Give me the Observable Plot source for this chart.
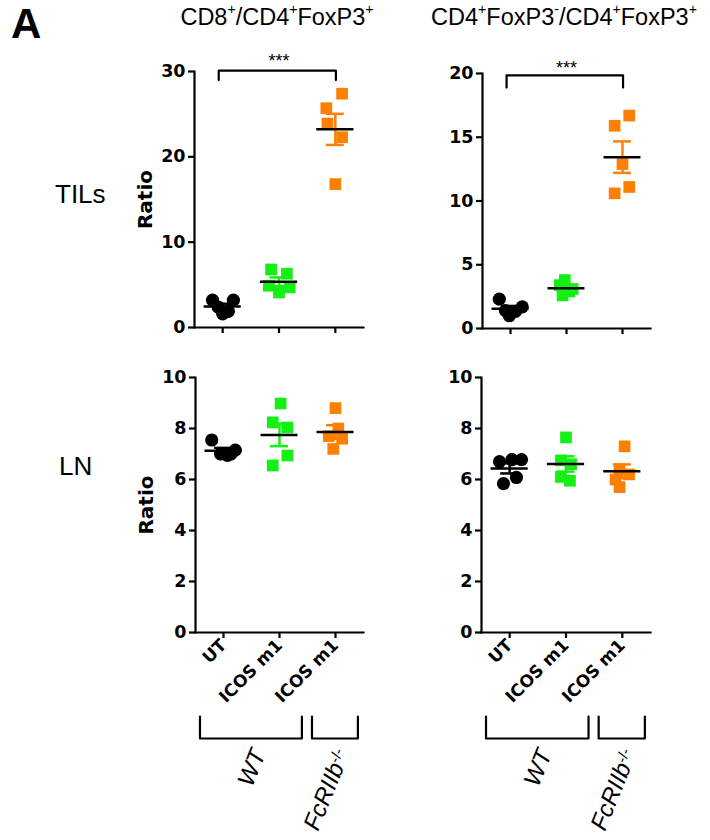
<!DOCTYPE html>
<html><head><meta charset="utf-8">
<script src="https://cdn.jsdelivr.net/npm/d3@7"></script>
<script src="https://cdn.jsdelivr.net/npm/@observablehq/plot@0.6"></script>
<style>
body{margin:0;background:#fff;}
#root{position:relative;width:710px;height:840px;overflow:hidden;font-family:"Liberation Sans",Arial,sans-serif;color:#000;}
.abs{position:absolute;white-space:nowrap;}
.title{font-size:23.5px;transform:translateX(-50%);}
.row{font-size:26px;}
.big{font-family:"Liberation Sans Narrow","Liberation Sans",sans-serif;font-weight:bold;font-size:42px;}
sup{font-size:0.6em;vertical-align:0.75em;line-height:0;}
</style></head><body><div id="root"></div>
<script>
// ---- data ----
const groups = ["UT", "ICOS m1", "ICOS m1"];
const groupColors = ["#000000", "#14f014", "#ff8000"];
const groupSymbols = ["circle", "square", "square"];
const rowLabels = ["TILs", "LN"];
const titleLeft = "CD8<sup>+</sup>/CD4<sup>+</sup>FoxP3<sup>+</sup>";
const titleRight = "CD4<sup>+</sup>FoxP3<sup>-</sup>/CD4<sup>+</sup>FoxP3<sup>+</sup>";
const genotypeLabels = ["WT", "FcRIIb"];
const genotypeSup = ["", "-/-"];
const genotypeFirst = [0, 2];
const genotypeLast = [1, 2];
const sigPair = [0, 2];
const sigLabel = "***";

// ratio values per group (UT WT, ICOS m1 WT, ICOS m1 FcRIIb-/-)
const tilsCD8 = [[3.2, 3.2, 1.6, 2.4, 1.9], [6.8, 6.3, 4.9, 4.7, 4.1], [27.4, 25.7, 23.9, 22.3, 16.8]];
const tilsCD4 = [[2.3, 1.7, 1.0, 1.4, 1.35], [3.8, 3.4, 3.1, 2.9, 2.6], [16.7, 15.9, 12.9, 10.6, 11.1]];
const lnCD8 = [[7.55, 7.15, 7.0, 6.95, 7.0], [8.98, 8.24, 8.04, 6.94, 6.55], [8.8, 8.0, 7.7, 7.6, 7.2]];
const lnCD4 = [[6.7, 6.78, 6.78, 5.84, 6.08], [7.65, 6.75, 6.6, 6.1, 5.95], [7.3, 6.4, 6.2, 6.0, 5.7]];
// horizontal scatter of each point (fraction of category step)
const tilsCD8Jitter = [[-0.18, 0.19, 0, -0.08, 0.1], [-0.14, 0.14, -0.18, 0.19, 0], [0.12, -0.16, -0.14, 0.12, 0]];
const tilsCD4Jitter = [[-0.2, 0.21, -0.02, -0.09, 0.09], [-0.03, -0.12, 0.11, 0.05, -0.07], [0.12, -0.14, 0, -0.14, 0.12]];
const lnCD8Jitter = [[-0.21, 0.21, -0.05, 0.07, 0.13], [0.02, -0.12, 0.14, 0.14, -0.12], [0, 0.05, -0.12, 0.12, -0.04]];
const lnCD4Jitter = [[-0.18, 0.04, 0.21, -0.11, 0.12], [0, -0.09, 0.09, -0.09, 0.07], [0.04, -0.05, 0.12, -0.12, -0.05]];

const root = document.getElementById("root");
function addHTML(cls, html, left, top) {
  const d = document.createElement("div");
  d.className = "abs " + cls;
  d.innerHTML = html;
  d.style.left = left + "px";
  d.style.top = top + "px";
  root.appendChild(d);
}

function panel(o) {
  const points = [];
  o.values.forEach((arr, g) => arr.forEach((v, j) => points.push({g, x: g + o.jitter[g][j], y: v})));
  const stats = o.values.map((arr, g) => ({g, mean: d3.mean(arr), sem: d3.deviation(arr) / Math.sqrt(arr.length)}));
  const plotH = o.height - o.mT - o.mB;
  const pxPerUnit = plotH / (o.yDomain[1] - o.yDomain[0]);
  const marks = [
    Plot.dot(points, {x: "x", y: "y", r: 6.6, symbol: d => groupSymbols[d.g], fill: d => groupColors[d.g]}),
    Plot.ruleX(stats, {x: "g", y1: d => d.mean - d.sem, y2: d => d.mean + d.sem, stroke: d => groupColors[d.g], strokeWidth: 2.5}),
    Plot.ruleY(stats, {y: d => d.mean + d.sem, x1: d => d.g - 0.16, x2: d => d.g + 0.16, stroke: d => groupColors[d.g], strokeWidth: 2.5}),
    Plot.ruleY(stats, {y: d => d.mean - d.sem, x1: d => d.g - 0.16, x2: d => d.g + 0.16, stroke: d => groupColors[d.g], strokeWidth: 2.5}),
    Plot.ruleY(stats, {y: "mean", x1: d => d.g - 0.33, x2: d => d.g + 0.33, stroke: "black", strokeWidth: 2.5}),
    Plot.frame({anchor: "left", strokeWidth: 2.2}),
    Plot.frame({anchor: "bottom", strokeWidth: 2.2}),
    Plot.axisY({ticks: o.yTicks, tickSize: 6, tickPadding: 3, strokeWidth: 2.2, fontSize: 17.5, fontWeight: "bold", label: null}),
    Plot.axisX({ticks: [0, 1, 2], tickSize: 6, tickPadding: 4, strokeWidth: 2.2, tickRotate: o.xLabels ? -45 : 0,
      tickFormat: i => o.xLabels ? groups[i] : "", fontSize: 17, fontWeight: "bold", label: null})
  ];
  if (o.showRatio) {
    marks.push(Plot.text(["Ratio"], {frameAnchor: "left", textAnchor: "middle", rotate: -90, dx: -49, fontSize: 20, fontWeight: "bold"}));
  }
  if (o.sig) {
    const a = sigPair[0] - 0.07, b = sigPair[1] + 0.01;
    const path = [{x: a, y: o.sigLeg}, {x: a, y: o.sigTop}, {x: b, y: o.sigTop}, {x: b, y: o.sigLeg}];
    marks.push(Plot.line(path, {x: "x", y: "y", stroke: "black", strokeWidth: 2.2}));
    marks.push(Plot.text([sigLabel], {x: (sigPair[0] + sigPair[1]) / 2, y: o.sigTop, dy: o.sigDy, lineAnchor: "bottom", fontSize: 18, fontFamily: "Liberation Sans"}));
  }
  if (o.brackets) {
    const topY = o.yDomain[0] - 84 / pxPerUnit;
    const botY = o.yDomain[0] - 106 / pxPerUnit;
    const br = genotypeLabels.map((lab, k) => ({lab, a: genotypeFirst[k] - 0.42, b: genotypeLast[k] + 0.4}));
    const lines = br.flatMap(d => [{k: d.lab, x: d.a, y: topY}, {k: d.lab, x: d.a, y: botY}, {k: d.lab, x: d.b, y: botY}, {k: d.lab, x: d.b, y: topY}]);
    marks.push(Plot.line(lines, {x: "x", y: "y", z: "k", stroke: "black", strokeWidth: 2.2}));
    marks.push(Plot.text(br, {x: d => (d.a + d.b) / 2 + 0.14, y: botY, dy: 12, text: "lab", textAnchor: "end", rotate: -68,
      fontSize: 24, fontStyle: "italic", fontFamily: "Liberation Sans"}));
  }
  const svg = Plot.plot({
    width: o.width, height: o.height,
    marginLeft: o.mL, marginRight: o.mR, marginTop: o.mT, marginBottom: o.mB,
    x: {domain: [-0.5, 2.5]},
    y: {domain: o.yDomain},
    style: {fontFamily: "DejaVu Sans", color: "black", background: "transparent", overflow: "visible"},
    marks
  });
  svg.querySelectorAll("text").forEach(t => {
    const k = genotypeLabels.indexOf(t.textContent.trim());
    if (k >= 0 && genotypeSup[k]) {
      const ts = document.createElementNS("http://www.w3.org/2000/svg", "tspan");
      ts.setAttribute("dy", "-0.45em");
      ts.setAttribute("font-size", "15");
      ts.setAttribute("font-style", "normal");
      ts.textContent = genotypeSup[k];
      t.appendChild(ts);
    }
  });
  const wrap = document.createElement("div");
  wrap.className = "abs";
  wrap.style.left = o.left + "px";
  wrap.style.top = o.top + "px";
  wrap.style.width = o.width + "px";
  wrap.appendChild(svg);
  root.appendChild(wrap);
}

panel({values: tilsCD8, jitter: tilsCD8Jitter, yDomain: [0, 30], yTicks: [0, 10, 20, 30], left: 0, top: 50, width: 380, height: 300,
  mL: 194, mR: 17, mT: 21, mB: 23, showRatio: true, xLabels: false, sig: true, sigTop: 30.1, sigLeg: 29.0, sigDy: -4});
panel({values: tilsCD4, jitter: tilsCD4Jitter, yDomain: [0, 20], yTicks: [0, 5, 10, 15, 20], left: 380, top: 50, width: 290, height: 300,
  mL: 102, mR: 20, mT: 23, mB: 22, showRatio: false, xLabels: false, sig: true, sigTop: 19.85, sigLeg: 18.9, sigDy: -1});
panel({values: lnCD8, jitter: lnCD8Jitter, yDomain: [0, 10], yTicks: [0, 2, 4, 6, 8, 10], left: 0, top: 360, width: 380, height: 480,
  mL: 195, mR: 17, mT: 17, mB: 208, showRatio: true, xLabels: true, brackets: true});
panel({values: lnCD4, jitter: lnCD4Jitter, yDomain: [0, 10], yTicks: [0, 2, 4, 6, 8, 10], left: 380, top: 360, width: 290, height: 480,
  mL: 101, mR: 20, mT: 17, mB: 208, showRatio: false, xLabels: true, brackets: true});

addHTML("big", "A", 11, 0);
addHTML("title", titleLeft, 277, 4);
addHTML("title", titleRight, 564, 4);
addHTML("row", rowLabels[0], 55, 179);
addHTML("row", rowLabels[1], 59, 451);
</script></body></html>
